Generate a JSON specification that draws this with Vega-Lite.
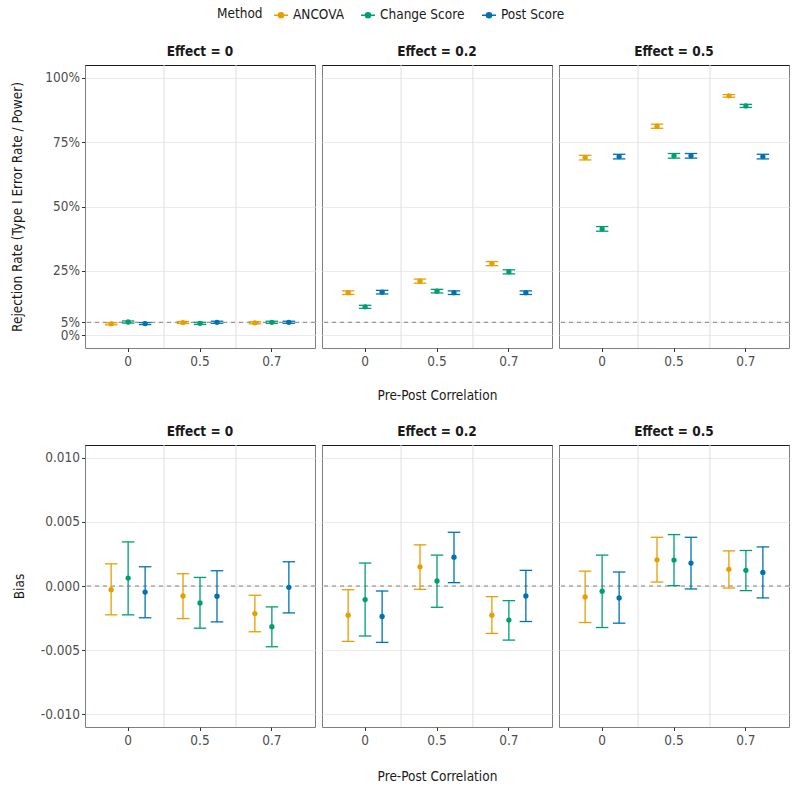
{
  "$schema": "https://vega.github.io/schema/vega-lite/v6.json",
  "padding": {"left": 10, "top": 7, "right": 5, "bottom": 5},
  "background": "white",
  "datasets": {
    "rej": [
      {"effect": "0", "corr": "0", "method": "ANCOVA", "value": 0.044, "lo": 0.040, "hi": 0.048},
      {"effect": "0", "corr": "0", "method": "Change Score", "value": 0.051, "lo": 0.047, "hi": 0.055},
      {"effect": "0", "corr": "0", "method": "Post Score", "value": 0.045, "lo": 0.041, "hi": 0.049},
      {"effect": "0", "corr": "0.5", "method": "ANCOVA", "value": 0.049, "lo": 0.045, "hi": 0.053},
      {"effect": "0", "corr": "0.5", "method": "Change Score", "value": 0.046, "lo": 0.042, "hi": 0.050},
      {"effect": "0", "corr": "0.5", "method": "Post Score", "value": 0.050, "lo": 0.046, "hi": 0.054},
      {"effect": "0", "corr": "0.7", "method": "ANCOVA", "value": 0.048, "lo": 0.044, "hi": 0.052},
      {"effect": "0", "corr": "0.7", "method": "Change Score", "value": 0.050, "lo": 0.046, "hi": 0.054},
      {"effect": "0", "corr": "0.7", "method": "Post Score", "value": 0.050, "lo": 0.046, "hi": 0.054},
      {"effect": "0.2", "corr": "0", "method": "ANCOVA", "value": 0.165, "lo": 0.158, "hi": 0.172},
      {"effect": "0.2", "corr": "0", "method": "Change Score", "value": 0.110, "lo": 0.104, "hi": 0.116},
      {"effect": "0.2", "corr": "0", "method": "Post Score", "value": 0.167, "lo": 0.160, "hi": 0.174},
      {"effect": "0.2", "corr": "0.5", "method": "ANCOVA", "value": 0.210, "lo": 0.202, "hi": 0.218},
      {"effect": "0.2", "corr": "0.5", "method": "Change Score", "value": 0.171, "lo": 0.164, "hi": 0.178},
      {"effect": "0.2", "corr": "0.5", "method": "Post Score", "value": 0.165, "lo": 0.158, "hi": 0.172},
      {"effect": "0.2", "corr": "0.7", "method": "ANCOVA", "value": 0.278, "lo": 0.270, "hi": 0.286},
      {"effect": "0.2", "corr": "0.7", "method": "Change Score", "value": 0.246, "lo": 0.238, "hi": 0.254},
      {"effect": "0.2", "corr": "0.7", "method": "Post Score", "value": 0.165, "lo": 0.158, "hi": 0.172},
      {"effect": "0.5", "corr": "0", "method": "ANCOVA", "value": 0.690, "lo": 0.681, "hi": 0.699},
      {"effect": "0.5", "corr": "0", "method": "Change Score", "value": 0.413, "lo": 0.404, "hi": 0.422},
      {"effect": "0.5", "corr": "0", "method": "Post Score", "value": 0.694, "lo": 0.685, "hi": 0.703},
      {"effect": "0.5", "corr": "0.5", "method": "ANCOVA", "value": 0.812, "lo": 0.804, "hi": 0.820},
      {"effect": "0.5", "corr": "0.5", "method": "Change Score", "value": 0.697, "lo": 0.688, "hi": 0.706},
      {"effect": "0.5", "corr": "0.5", "method": "Post Score", "value": 0.697, "lo": 0.688, "hi": 0.706},
      {"effect": "0.5", "corr": "0.7", "method": "ANCOVA", "value": 0.930, "lo": 0.925, "hi": 0.935},
      {"effect": "0.5", "corr": "0.7", "method": "Change Score", "value": 0.891, "lo": 0.885, "hi": 0.897},
      {"effect": "0.5", "corr": "0.7", "method": "Post Score", "value": 0.694, "lo": 0.685, "hi": 0.703}
    ],
    "bias": [
      {"effect": "0", "corr": "0", "method": "ANCOVA", "value": -0.00029, "lo": -0.00225, "hi": 0.00173},
      {"effect": "0", "corr": "0", "method": "Change Score", "value": 0.00062, "lo": -0.00225, "hi": 0.00344},
      {"effect": "0", "corr": "0", "method": "Post Score", "value": -0.00047, "lo": -0.00248, "hi": 0.0015},
      {"effect": "0", "corr": "0.5", "method": "ANCOVA", "value": -0.00078, "lo": -0.00254, "hi": 0.00096},
      {"effect": "0", "corr": "0.5", "method": "Change Score", "value": -0.00132, "lo": -0.00329, "hi": 0.00067},
      {"effect": "0", "corr": "0.5", "method": "Post Score", "value": -0.0008, "lo": -0.0028, "hi": 0.00119},
      {"effect": "0", "corr": "0.7", "method": "ANCOVA", "value": -0.00215, "lo": -0.00357, "hi": -0.00072},
      {"effect": "0", "corr": "0.7", "method": "Change Score", "value": -0.00318, "lo": -0.00474, "hi": -0.00163},
      {"effect": "0", "corr": "0.7", "method": "Post Score", "value": -0.0001, "lo": -0.0021, "hi": 0.00189},
      {"effect": "0.2", "corr": "0", "method": "ANCOVA", "value": -0.00228, "lo": -0.00432, "hi": -0.00029},
      {"effect": "0.2", "corr": "0", "method": "Change Score", "value": -0.00106, "lo": -0.0039, "hi": 0.00179},
      {"effect": "0.2", "corr": "0", "method": "Post Score", "value": -0.00238, "lo": -0.0044, "hi": -0.00039},
      {"effect": "0.2", "corr": "0.5", "method": "ANCOVA", "value": 0.0015, "lo": -0.00026, "hi": 0.00321},
      {"effect": "0.2", "corr": "0.5", "method": "Change Score", "value": 0.00039, "lo": -0.00166, "hi": 0.00241},
      {"effect": "0.2", "corr": "0.5", "method": "Post Score", "value": 0.00225, "lo": 0.00026, "hi": 0.00419},
      {"effect": "0.2", "corr": "0.7", "method": "ANCOVA", "value": -0.00228, "lo": -0.0037, "hi": -0.00083},
      {"effect": "0.2", "corr": "0.7", "method": "Change Score", "value": -0.00266, "lo": -0.00422, "hi": -0.00114},
      {"effect": "0.2", "corr": "0.7", "method": "Post Score", "value": -0.00078, "lo": -0.00277, "hi": 0.00122},
      {"effect": "0.5", "corr": "0", "method": "ANCOVA", "value": -0.00085, "lo": -0.00285, "hi": 0.00116},
      {"effect": "0.5", "corr": "0", "method": "Change Score", "value": -0.00041, "lo": -0.00324, "hi": 0.00241},
      {"effect": "0.5", "corr": "0", "method": "Post Score", "value": -0.00093, "lo": -0.0029, "hi": 0.00109},
      {"effect": "0.5", "corr": "0.5", "method": "ANCOVA", "value": 0.00204, "lo": 0.00031, "hi": 0.0038},
      {"effect": "0.5", "corr": "0.5", "method": "Change Score", "value": 0.00202, "lo": 0.00003, "hi": 0.00401},
      {"effect": "0.5", "corr": "0.5", "method": "Post Score", "value": 0.00179, "lo": -0.00023, "hi": 0.0038},
      {"effect": "0.5", "corr": "0.7", "method": "ANCOVA", "value": 0.0013, "lo": -0.00016, "hi": 0.00274},
      {"effect": "0.5", "corr": "0.7", "method": "Change Score", "value": 0.00122, "lo": -0.00036, "hi": 0.00277},
      {"effect": "0.5", "corr": "0.7", "method": "Post Score", "value": 0.00106, "lo": -0.00093, "hi": 0.00305}
    ]
  },
  "vconcat": [
    {
      "hconcat": [
        {
          "vconcat": [
            {"width": 230, "height": 26, "data": {"name": "rej"}, "transform": [{"filter": "datum.effect === '0' && datum.corr === '0' && datum.method === 'ANCOVA'"}], "mark": {"type": "text", "fontWeight": "bold", "fontSize": 13.5, "color": "#1A1A1A"}, "encoding": {"text": {"value": "Effect = 0"}}},
            {
              "width": 230, "height": 283, "data": {"name": "rej"}, "transform": [{"filter": "datum.effect === '0'"}],
              "layer": [
                {"transform": [{"filter": "datum.method === 'ANCOVA' && datum.corr !== '0'"}], "mark": {"type": "rule", "color": "#DEDEDE", "strokeWidth": 1}, "encoding": {"x": {"field": "corr", "type": "nominal", "bandPosition": 0, "scale": {"domain": ["0", "0.5", "0.7"], "paddingInner": 0, "paddingOuter": 0.1}, "axis": {"orient": "top", "title": null, "labels": false, "ticks": false, "grid": false, "domain": true, "domainColor": "#1A1A1A", "domainWidth": 1.2}}}},
                {"transform": [{"filter": "datum.method === 'ANCOVA' && datum.corr === '0'"}], "mark": {"type": "rule", "color": "#7F7F7F", "strokeDash": [4, 4], "strokeWidth": 1}, "encoding": {"y": {"datum": 0.05, "type": "quantitative", "scale": {"domain": [-0.05, 1.05], "nice": false, "zero": false}, "axis": {"title": "Rejection Rate (Type I Error Rate / Power)", "values": [0, 0.05, 0.25, 0.5, 0.75, 1], "labelExpr": "format(datum.value, '.0%')", "labelOverlap": false, "grid": true, "titlePadding": 20}}}},
                {
                  "encoding": {
                    "x": {"field": "corr", "type": "nominal", "axis": {"orient": "bottom", "title": null, "labelAngle": 0, "grid": false, "labelPadding": 3}},
                    "xOffset": {"field": "method", "type": "nominal", "scale": {"domain": ["ANCOVA", "Change Score", "Post Score"], "paddingInner": 0, "paddingOuter": 0.615}},
                    "color": {"field": "method", "type": "nominal", "scale": {"domain": ["ANCOVA", "Change Score", "Post Score"], "range": ["#E69F00", "#009E73", "#0072B2"]}, "legend": {"title": "Method", "orient": "none", "legendX": 132, "legendY": -32, "direction": "horizontal", "titleOrient": "left", "symbolType": "M-1,0L1,0M-0.36,0A0.36,0.36 0 1 1 0.36,0A0.36,0.36 0 1 1 -0.36,0Z", "symbolSize": 196, "symbolStrokeWidth": 1.5, "columnPadding": 14, "titlePadding": 10, "encode": {"symbols": {"update": {"stroke": {"scale": "color", "field": "value"}, "fill": {"scale": "color", "field": "value"}}}}}}
                  },
                  "layer": [
                    {"mark": {"type": "rule", "strokeWidth": 1.3}, "encoding": {"y": {"field": "lo", "type": "quantitative", "axis": {"title": "Rejection Rate (Type I Error Rate / Power)", "values": [0, 0.05, 0.25, 0.5, 0.75, 1], "labelExpr": "format(datum.value, '.0%')", "labelOverlap": false, "grid": true, "titlePadding": 20}}, "y2": {"field": "hi"}}},
                    {"mark": {"type": "tick", "size": 12.5, "thickness": 1.3, "opacity": 1}, "encoding": {"y": {"field": "lo", "type": "quantitative"}}},
                    {"mark": {"type": "tick", "size": 12.5, "thickness": 1.3, "opacity": 1}, "encoding": {"y": {"field": "hi", "type": "quantitative"}}},
                    {"mark": {"type": "point", "filled": true, "size": 28, "opacity": 1}, "encoding": {"y": {"field": "value", "type": "quantitative"}}}
                  ]
                }
              ],
              "resolve": {"axis": {"x": "independent"}}
            }
          ],
          "spacing": 0, "bounds": "flush"
        },
        {
          "vconcat": [
            {"width": 230, "height": 26, "data": {"name": "rej"}, "transform": [{"filter": "datum.effect === '0.2' && datum.corr === '0' && datum.method === 'ANCOVA'"}], "mark": {"type": "text", "fontWeight": "bold", "fontSize": 13.5, "color": "#1A1A1A"}, "encoding": {"text": {"value": "Effect = 0.2"}}},
            {
              "width": 230, "height": 283, "data": {"name": "rej"}, "transform": [{"filter": "datum.effect === '0.2'"}],
              "layer": [
                {"transform": [{"filter": "datum.method === 'ANCOVA' && datum.corr !== '0'"}], "mark": {"type": "rule", "color": "#DEDEDE", "strokeWidth": 1}, "encoding": {"x": {"field": "corr", "type": "nominal", "bandPosition": 0, "scale": {"domain": ["0", "0.5", "0.7"], "paddingInner": 0, "paddingOuter": 0.1}, "axis": {"orient": "top", "title": null, "labels": false, "ticks": false, "grid": false, "domain": true, "domainColor": "#1A1A1A", "domainWidth": 1.2}}}},
                {"transform": [{"filter": "datum.method === 'ANCOVA' && datum.corr === '0'"}], "mark": {"type": "rule", "color": "#7F7F7F", "strokeDash": [4, 4], "strokeWidth": 1}, "encoding": {"y": {"datum": 0.05, "type": "quantitative", "scale": {"domain": [-0.05, 1.05], "nice": false, "zero": false}, "axis": {"title": null, "values": [0, 0.05, 0.25, 0.5, 0.75, 1], "labels": false, "ticks": false, "grid": true}}}},
                {
                  "encoding": {
                    "x": {"field": "corr", "type": "nominal", "axis": {"orient": "bottom", "title": "Pre-Post Correlation", "titlePadding": 20, "labelAngle": 0, "grid": false, "labelPadding": 3}},
                    "xOffset": {"field": "method", "type": "nominal", "scale": {"domain": ["ANCOVA", "Change Score", "Post Score"], "paddingInner": 0, "paddingOuter": 0.615}},
                    "color": {"field": "method", "type": "nominal", "scale": {"domain": ["ANCOVA", "Change Score", "Post Score"], "range": ["#E69F00", "#009E73", "#0072B2"]}}
                  },
                  "layer": [
                    {"mark": {"type": "rule", "strokeWidth": 1.3}, "encoding": {"y": {"field": "lo", "type": "quantitative", "axis": {"title": null, "values": [0, 0.05, 0.25, 0.5, 0.75, 1], "labels": false, "ticks": false, "grid": true}}, "y2": {"field": "hi"}}},
                    {"mark": {"type": "tick", "size": 12.5, "thickness": 1.3, "opacity": 1}, "encoding": {"y": {"field": "lo", "type": "quantitative"}}},
                    {"mark": {"type": "tick", "size": 12.5, "thickness": 1.3, "opacity": 1}, "encoding": {"y": {"field": "hi", "type": "quantitative"}}},
                    {"mark": {"type": "point", "filled": true, "size": 28, "opacity": 1}, "encoding": {"y": {"field": "value", "type": "quantitative"}}}
                  ]
                }
              ],
              "resolve": {"axis": {"x": "independent"}}
            }
          ],
          "spacing": 0, "bounds": "flush"
        },
        {
          "vconcat": [
            {"width": 230, "height": 26, "data": {"name": "rej"}, "transform": [{"filter": "datum.effect === '0.5' && datum.corr === '0' && datum.method === 'ANCOVA'"}], "mark": {"type": "text", "fontWeight": "bold", "fontSize": 13.5, "color": "#1A1A1A"}, "encoding": {"text": {"value": "Effect = 0.5"}}},
            {
              "width": 230, "height": 283, "data": {"name": "rej"}, "transform": [{"filter": "datum.effect === '0.5'"}],
              "layer": [
                {"transform": [{"filter": "datum.method === 'ANCOVA' && datum.corr !== '0'"}], "mark": {"type": "rule", "color": "#DEDEDE", "strokeWidth": 1}, "encoding": {"x": {"field": "corr", "type": "nominal", "bandPosition": 0, "scale": {"domain": ["0", "0.5", "0.7"], "paddingInner": 0, "paddingOuter": 0.1}, "axis": {"orient": "top", "title": null, "labels": false, "ticks": false, "grid": false, "domain": true, "domainColor": "#1A1A1A", "domainWidth": 1.2}}}},
                {"transform": [{"filter": "datum.method === 'ANCOVA' && datum.corr === '0'"}], "mark": {"type": "rule", "color": "#7F7F7F", "strokeDash": [4, 4], "strokeWidth": 1}, "encoding": {"y": {"datum": 0.05, "type": "quantitative", "scale": {"domain": [-0.05, 1.05], "nice": false, "zero": false}, "axis": {"title": null, "values": [0, 0.05, 0.25, 0.5, 0.75, 1], "labels": false, "ticks": false, "grid": true}}}},
                {
                  "encoding": {
                    "x": {"field": "corr", "type": "nominal", "axis": {"orient": "bottom", "title": null, "labelAngle": 0, "grid": false, "labelPadding": 3}},
                    "xOffset": {"field": "method", "type": "nominal", "scale": {"domain": ["ANCOVA", "Change Score", "Post Score"], "paddingInner": 0, "paddingOuter": 0.615}},
                    "color": {"field": "method", "type": "nominal", "scale": {"domain": ["ANCOVA", "Change Score", "Post Score"], "range": ["#E69F00", "#009E73", "#0072B2"]}}
                  },
                  "layer": [
                    {"mark": {"type": "rule", "strokeWidth": 1.3}, "encoding": {"y": {"field": "lo", "type": "quantitative", "axis": {"title": null, "values": [0, 0.05, 0.25, 0.5, 0.75, 1], "labels": false, "ticks": false, "grid": true}}, "y2": {"field": "hi"}}},
                    {"mark": {"type": "tick", "size": 12.5, "thickness": 1.3, "opacity": 1}, "encoding": {"y": {"field": "lo", "type": "quantitative"}}},
                    {"mark": {"type": "tick", "size": 12.5, "thickness": 1.3, "opacity": 1}, "encoding": {"y": {"field": "hi", "type": "quantitative"}}},
                    {"mark": {"type": "point", "filled": true, "size": 28, "opacity": 1}, "encoding": {"y": {"field": "value", "type": "quantitative"}}}
                  ]
                }
              ],
              "resolve": {"axis": {"x": "independent"}}
            }
          ],
          "spacing": 0, "bounds": "flush"
        }
      ],
      "spacing": 5
    },
    {
      "hconcat": [
        {
          "vconcat": [
            {"width": 230, "height": 27, "data": {"name": "bias"}, "transform": [{"filter": "datum.effect === '0' && datum.corr === '0' && datum.method === 'ANCOVA'"}], "mark": {"type": "text", "fontWeight": "bold", "fontSize": 13.5, "color": "#1A1A1A"}, "encoding": {"text": {"value": "Effect = 0"}}},
            {
              "width": 230, "height": 282, "data": {"name": "bias"}, "transform": [{"filter": "datum.effect === '0'"}],
              "layer": [
                {"transform": [{"filter": "datum.method === 'ANCOVA' && datum.corr !== '0'"}], "mark": {"type": "rule", "color": "#DEDEDE", "strokeWidth": 1}, "encoding": {"x": {"field": "corr", "type": "nominal", "bandPosition": 0, "scale": {"domain": ["0", "0.5", "0.7"], "paddingInner": 0, "paddingOuter": 0.1}, "axis": {"orient": "top", "title": null, "labels": false, "ticks": false, "grid": false, "domain": true, "domainColor": "#1A1A1A", "domainWidth": 1.2}}}},
                {"transform": [{"filter": "datum.method === 'ANCOVA' && datum.corr === '0'"}], "mark": {"type": "rule", "color": "#7F7F7F", "strokeDash": [4, 4], "strokeWidth": 1}, "encoding": {"y": {"datum": 0, "type": "quantitative", "scale": {"domain": [-0.011, 0.011], "nice": false, "zero": false}, "axis": {"title": "Bias", "values": [-0.01, -0.005, 0, 0.005, 0.01], "labelExpr": "replace(format(datum.value, '.3f'), '\u2212', '-')", "labelOverlap": false, "grid": true, "titlePadding": 14}}}},
                {
                  "encoding": {
                    "x": {"field": "corr", "type": "nominal", "axis": {"orient": "bottom", "title": null, "labelAngle": 0, "grid": false, "labelPadding": 3}},
                    "xOffset": {"field": "method", "type": "nominal", "scale": {"domain": ["ANCOVA", "Change Score", "Post Score"], "paddingInner": 0, "paddingOuter": 0.615}},
                    "color": {"field": "method", "type": "nominal", "scale": {"domain": ["ANCOVA", "Change Score", "Post Score"], "range": ["#E69F00", "#009E73", "#0072B2"]}}
                  },
                  "layer": [
                    {"mark": {"type": "rule", "strokeWidth": 1.3}, "encoding": {"y": {"field": "lo", "type": "quantitative", "axis": {"title": "Bias", "values": [-0.01, -0.005, 0, 0.005, 0.01], "labelExpr": "replace(format(datum.value, '.3f'), '\u2212', '-')", "labelOverlap": false, "grid": true, "titlePadding": 14}}, "y2": {"field": "hi"}}},
                    {"mark": {"type": "tick", "size": 12.5, "thickness": 1.3, "opacity": 1}, "encoding": {"y": {"field": "lo", "type": "quantitative"}}},
                    {"mark": {"type": "tick", "size": 12.5, "thickness": 1.3, "opacity": 1}, "encoding": {"y": {"field": "hi", "type": "quantitative"}}},
                    {"mark": {"type": "point", "filled": true, "size": 28, "opacity": 1}, "encoding": {"y": {"field": "value", "type": "quantitative"}}}
                  ]
                }
              ],
              "resolve": {"axis": {"x": "independent"}}
            }
          ],
          "spacing": 0, "bounds": "flush"
        },
        {
          "vconcat": [
            {"width": 230, "height": 27, "data": {"name": "bias"}, "transform": [{"filter": "datum.effect === '0.2' && datum.corr === '0' && datum.method === 'ANCOVA'"}], "mark": {"type": "text", "fontWeight": "bold", "fontSize": 13.5, "color": "#1A1A1A"}, "encoding": {"text": {"value": "Effect = 0.2"}}},
            {
              "width": 230, "height": 282, "data": {"name": "bias"}, "transform": [{"filter": "datum.effect === '0.2'"}],
              "layer": [
                {"transform": [{"filter": "datum.method === 'ANCOVA' && datum.corr !== '0'"}], "mark": {"type": "rule", "color": "#DEDEDE", "strokeWidth": 1}, "encoding": {"x": {"field": "corr", "type": "nominal", "bandPosition": 0, "scale": {"domain": ["0", "0.5", "0.7"], "paddingInner": 0, "paddingOuter": 0.1}, "axis": {"orient": "top", "title": null, "labels": false, "ticks": false, "grid": false, "domain": true, "domainColor": "#1A1A1A", "domainWidth": 1.2}}}},
                {"transform": [{"filter": "datum.method === 'ANCOVA' && datum.corr === '0'"}], "mark": {"type": "rule", "color": "#7F7F7F", "strokeDash": [4, 4], "strokeWidth": 1}, "encoding": {"y": {"datum": 0, "type": "quantitative", "scale": {"domain": [-0.011, 0.011], "nice": false, "zero": false}, "axis": {"title": null, "values": [-0.01, -0.005, 0, 0.005, 0.01], "labels": false, "ticks": false, "grid": true}}}},
                {
                  "encoding": {
                    "x": {"field": "corr", "type": "nominal", "axis": {"orient": "bottom", "title": "Pre-Post Correlation", "titlePadding": 22, "labelAngle": 0, "grid": false, "labelPadding": 3}},
                    "xOffset": {"field": "method", "type": "nominal", "scale": {"domain": ["ANCOVA", "Change Score", "Post Score"], "paddingInner": 0, "paddingOuter": 0.615}},
                    "color": {"field": "method", "type": "nominal", "scale": {"domain": ["ANCOVA", "Change Score", "Post Score"], "range": ["#E69F00", "#009E73", "#0072B2"]}}
                  },
                  "layer": [
                    {"mark": {"type": "rule", "strokeWidth": 1.3}, "encoding": {"y": {"field": "lo", "type": "quantitative", "axis": {"title": null, "values": [-0.01, -0.005, 0, 0.005, 0.01], "labels": false, "ticks": false, "grid": true}}, "y2": {"field": "hi"}}},
                    {"mark": {"type": "tick", "size": 12.5, "thickness": 1.3, "opacity": 1}, "encoding": {"y": {"field": "lo", "type": "quantitative"}}},
                    {"mark": {"type": "tick", "size": 12.5, "thickness": 1.3, "opacity": 1}, "encoding": {"y": {"field": "hi", "type": "quantitative"}}},
                    {"mark": {"type": "point", "filled": true, "size": 28, "opacity": 1}, "encoding": {"y": {"field": "value", "type": "quantitative"}}}
                  ]
                }
              ],
              "resolve": {"axis": {"x": "independent"}}
            }
          ],
          "spacing": 0, "bounds": "flush"
        },
        {
          "vconcat": [
            {"width": 230, "height": 27, "data": {"name": "bias"}, "transform": [{"filter": "datum.effect === '0.5' && datum.corr === '0' && datum.method === 'ANCOVA'"}], "mark": {"type": "text", "fontWeight": "bold", "fontSize": 13.5, "color": "#1A1A1A"}, "encoding": {"text": {"value": "Effect = 0.5"}}},
            {
              "width": 230, "height": 282, "data": {"name": "bias"}, "transform": [{"filter": "datum.effect === '0.5'"}],
              "layer": [
                {"transform": [{"filter": "datum.method === 'ANCOVA' && datum.corr !== '0'"}], "mark": {"type": "rule", "color": "#DEDEDE", "strokeWidth": 1}, "encoding": {"x": {"field": "corr", "type": "nominal", "bandPosition": 0, "scale": {"domain": ["0", "0.5", "0.7"], "paddingInner": 0, "paddingOuter": 0.1}, "axis": {"orient": "top", "title": null, "labels": false, "ticks": false, "grid": false, "domain": true, "domainColor": "#1A1A1A", "domainWidth": 1.2}}}},
                {"transform": [{"filter": "datum.method === 'ANCOVA' && datum.corr === '0'"}], "mark": {"type": "rule", "color": "#7F7F7F", "strokeDash": [4, 4], "strokeWidth": 1}, "encoding": {"y": {"datum": 0, "type": "quantitative", "scale": {"domain": [-0.011, 0.011], "nice": false, "zero": false}, "axis": {"title": null, "values": [-0.01, -0.005, 0, 0.005, 0.01], "labels": false, "ticks": false, "grid": true}}}},
                {
                  "encoding": {
                    "x": {"field": "corr", "type": "nominal", "axis": {"orient": "bottom", "title": null, "labelAngle": 0, "grid": false, "labelPadding": 3}},
                    "xOffset": {"field": "method", "type": "nominal", "scale": {"domain": ["ANCOVA", "Change Score", "Post Score"], "paddingInner": 0, "paddingOuter": 0.615}},
                    "color": {"field": "method", "type": "nominal", "scale": {"domain": ["ANCOVA", "Change Score", "Post Score"], "range": ["#E69F00", "#009E73", "#0072B2"]}}
                  },
                  "layer": [
                    {"mark": {"type": "rule", "strokeWidth": 1.3}, "encoding": {"y": {"field": "lo", "type": "quantitative", "axis": {"title": null, "values": [-0.01, -0.005, 0, 0.005, 0.01], "labels": false, "ticks": false, "grid": true}}, "y2": {"field": "hi"}}},
                    {"mark": {"type": "tick", "size": 12.5, "thickness": 1.3, "opacity": 1}, "encoding": {"y": {"field": "lo", "type": "quantitative"}}},
                    {"mark": {"type": "tick", "size": 12.5, "thickness": 1.3, "opacity": 1}, "encoding": {"y": {"field": "hi", "type": "quantitative"}}},
                    {"mark": {"type": "point", "filled": true, "size": 28, "opacity": 1}, "encoding": {"y": {"field": "value", "type": "quantitative"}}}
                  ]
                }
              ],
              "resolve": {"axis": {"x": "independent"}}
            }
          ],
          "spacing": 0, "bounds": "flush"
        }
      ],
      "spacing": 5
    }
  ],
  "spacing": 16,
  "config": {
    "font": "DejaVu Sans Condensed, Roboto, sans-serif",
    "view": {"stroke": "#7F7F7F", "strokeWidth": 1},
    "axis": {"labelFontSize": 13.5, "labelColor": "#4D4D4D", "titleFontSize": 13.5, "titleFontWeight": "normal", "titleColor": "#1A1A1A", "gridColor": "#EBEBEB", "gridWidth": 1, "tickColor": "#333333", "tickSize": 3.5, "domain": false},
    "legend": {"labelFontSize": 13.5, "titleFontSize": 13.5, "titleFontWeight": "normal", "labelColor": "#1A1A1A", "titleColor": "#1A1A1A"}
  }
}
